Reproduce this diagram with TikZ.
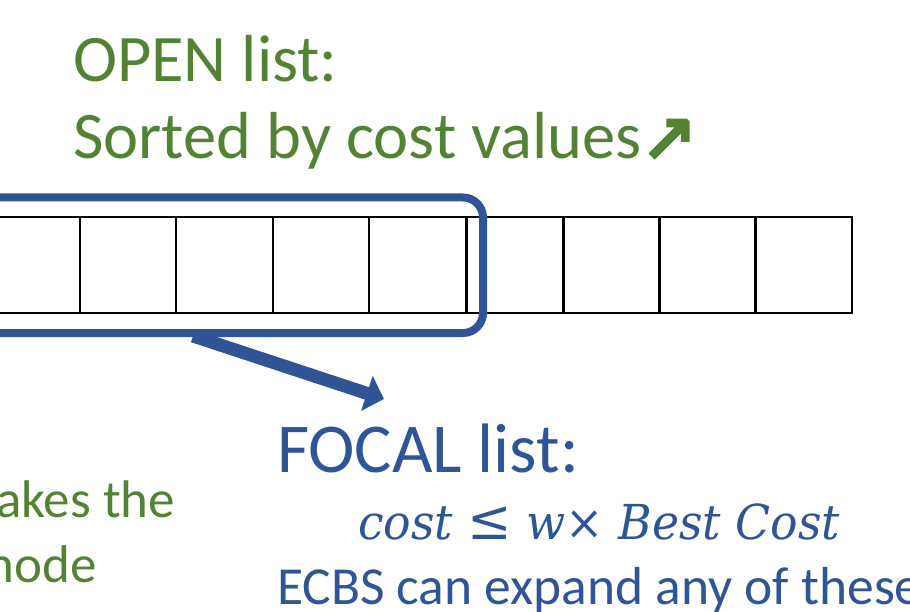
\documentclass[tikz,border=0pt]{standalone}
\usepackage{fontspec}
\setmainfont{Carlito}
\newfontfamily\symfont{DejaVu Sans}[FakeBold=5]
\newfontfamily\mathserif{DejaVu Serif}
\usetikzlibrary{arrows.meta}
\definecolor{ogreen}{HTML}{548235}
\definecolor{fblue}{HTML}{2F5597}
\tikzset{
  cell/.style={draw=black, line width=2.2pt, minimum width=96.5pt, minimum height=96.5pt, inner sep=0pt, outer sep=0pt},
  txt/.style={inner sep=0pt, outer sep=0pt},
  bigarrow/.style={draw=fblue, line width=13pt, -{Triangle[length=18pt,width=36pt]}},
}
\begin{document}
\begin{tikzpicture}[x=1pt,y=-1pt]
\useasboundingbox (0,0) rectangle (910,612);
\clip (0,0) rectangle (910,612);
% OPEN list cells
\node[cell] (l0) at (31.5,265) {};
\node[cell] (l1) at (128,265) {};
\node[cell] (l2) at (224.5,265) {};
\node[cell] (l3) at (321,265) {};
\node[cell] (l4) at (417.5,265) {};
\node[cell] (r1) at (515.2,265) {};
\node[cell] (r2) at (611.2,265) {};
\node[cell] (r3) at (707.2,265) {};
\node[cell] (r4) at (803.5,265) {};
% FOCAL box
\node[draw=fblue, line width=8pt, rounded corners=20pt, minimum width=683pt, minimum height=135.5pt, inner sep=0pt] (focal) at (141.5,265.25) {};
% arrow
\coordinate (astart) at (193,336);
\coordinate (aend) at (384,399);
\draw[bigarrow] (astart) -- (aend);
% texts
\node[txt, anchor=base west, text=ogreen, font=\fontsize{66.5}{78}\selectfont] (open1) at (73,82) {OPEN list:};
\node[txt, anchor=base west, text=ogreen, font=\fontsize{66.5}{78}\selectfont] (open2) at (73,159) {Sorted by cost values{\symfont\fontsize{66}{70}\selectfont ↗}};
\node[txt, anchor=base west, text=fblue, font=\fontsize{70}{84}\selectfont] (focalt) at (277,472) {FOCAL list:};
\node[txt, anchor=base west, text=fblue] (cond) at (358,539) {\resizebox{482pt}{1.12\height}{\mathserif\fontsize{43}{52}\selectfont\itshape cost {\upshape\fontsize{50}{52}\selectfont ≤} w\upshape× \itshape Best Cost}};
\node[txt, anchor=base west, text=fblue, font=\fontsize{53.5}{62}\selectfont] (ecbs) at (277,604) {ECBS can expand any of these};
\node[txt, anchor=base east, text=ogreen, font=\fontsize{53}{63}\selectfont] (mk1) at (175,517) {akes the};
\node[txt, anchor=base east, text=ogreen, font=\fontsize{53}{63}\selectfont] (mk2) at (97,582) {node};
\end{tikzpicture}
\end{document}
